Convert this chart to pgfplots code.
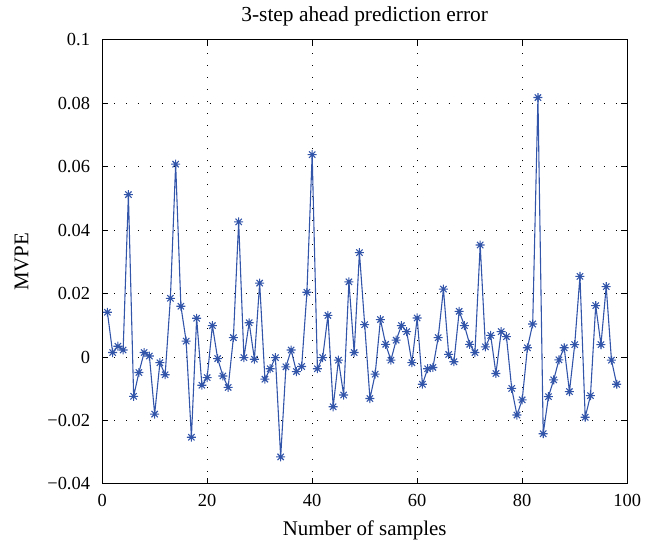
\documentclass[border=0pt]{standalone}
\usepackage{pgfplots}
\pgfplotsset{compat=1.18}
\usepackage{fontspec}
\setmainfont{Liberation Serif}
\definecolor{lineblue}{RGB}{50,85,170}
\pgfdeclareplotmark{mstar}{%
  \pgfpathmoveto{\pgfqpoint{-\pgfplotmarksize}{0pt}}\pgfpathlineto{\pgfqpoint{\pgfplotmarksize}{0pt}}%
  \pgfpathmoveto{\pgfqpoint{0pt}{-\pgfplotmarksize}}\pgfpathlineto{\pgfqpoint{0pt}{\pgfplotmarksize}}%
  \pgfpathmoveto{\pgfqpoint{-0.707\pgfplotmarksize}{-0.707\pgfplotmarksize}}\pgfpathlineto{\pgfqpoint{0.707\pgfplotmarksize}{0.707\pgfplotmarksize}}%
  \pgfpathmoveto{\pgfqpoint{-0.707\pgfplotmarksize}{0.707\pgfplotmarksize}}\pgfpathlineto{\pgfqpoint{0.707\pgfplotmarksize}{-0.707\pgfplotmarksize}}%
  \pgfusepathqstroke}
\pgfplotstableread{
x y
1 0.0141
2 0.0014
3 0.0034
4 0.0022
5 0.0512
6 -0.0124
7 -0.0049
8 0.0014
9 0.0003
10 -0.0180
11 -0.0018
12 -0.0056
13 0.0185
14 0.0608
15 0.0160
16 0.0050
17 -0.0253
18 0.0122
19 -0.0089
20 -0.0065
21 0.0099
22 -0.0005
23 -0.0060
24 -0.0096
25 0.0061
26 0.0426
27 -0.0002
28 0.0108
29 -0.0007
30 0.0233
31 -0.0070
32 -0.0037
33 -0.0002
34 -0.0315
35 -0.0031
36 0.0022
37 -0.0046
38 -0.0030
39 0.0204
40 0.0638
41 -0.0037
42 -0.0002
43 0.0131
44 -0.0157
45 -0.0010
46 -0.0120
47 0.0237
48 0.0014
49 0.0329
50 0.0102
51 -0.0131
52 -0.0054
53 0.0118
54 0.0040
55 -0.0010
56 0.0053
57 0.0099
58 0.0080
59 -0.0018
60 0.0123
61 -0.0086
62 -0.0037
63 -0.0033
64 0.0061
65 0.0214
66 0.0008
67 -0.0015
68 0.0144
69 0.0099
70 0.0040
71 0.0014
72 0.0353
73 0.0032
74 0.0068
75 -0.0052
76 0.0080
77 0.0064
78 -0.0099
79 -0.0183
80 -0.0135
81 0.0029
82 0.0104
83 0.0818
84 -0.0242
85 -0.0125
86 -0.0072
87 -0.0009
88 0.0029
89 -0.0109
90 0.0039
91 0.0254
92 -0.0190
93 -0.0122
94 0.0162
95 0.0039
96 0.0222
97 -0.0010
98 -0.0086
}\errdata
\begin{document}
\fontsize{18}{21}\selectfont
\begin{tikzpicture}
\begin{axis}[
  scale only axis,
  width=527.4pt, height=446pt,
  xmin=0, xmax=100, ymin=-0.04, ymax=0.1,
  xtick={0,20,40,60,80,100},
  xticklabels={0,20,40,60,80,100},
  ytick={-0.04,-0.02,0,0.02,0.04,0.06,0.08,0.1},
  yticklabels={−0.04,−0.02,0,0.02,0.04,0.06,0.08,0.1},
  tick align=inside,
  major tick length=6pt,
  xtick pos=both, ytick pos=both,
  grid=major,
  major grid style={black, line width=0.9pt, dash pattern=on 0.9pt off 11.1pt},
  axis line style={black, line width=1pt},
  tick style={black, line width=0.8pt},
  tick label style={font=\fontsize{18.5}{21}\selectfont},
  xticklabel style={anchor=center, yshift=-17pt},
  yticklabel style={anchor=east, xshift=-6pt},
  title style={font=\fontsize{21.5}{24}\selectfont, at={(axis description cs:0.5,1.04)}, anchor=center},
  xlabel style={font=\fontsize{21}{24}\selectfont, at={(axis description cs:0.5,-0.104)}, anchor=center},
  ylabel style={font=\fontsize{21}{24}\selectfont, at={(axis description cs:-0.153,0.5)}, anchor=center},
  title={3-step ahead prediction error},
  xlabel={Number of samples},
  ylabel={MVPE},
]
\addplot[color=lineblue, line width=1.1pt, mark=mstar, mark size=4.5pt, mark options={line width=1.1pt}] table[x=x,y=y]{\errdata};
\end{axis}
\path ([shift={(-102.6pt,-59pt)}]current axis.south west) rectangle ([shift={(18pt,40pt)}]current axis.north east);
\end{tikzpicture}
\end{document}
